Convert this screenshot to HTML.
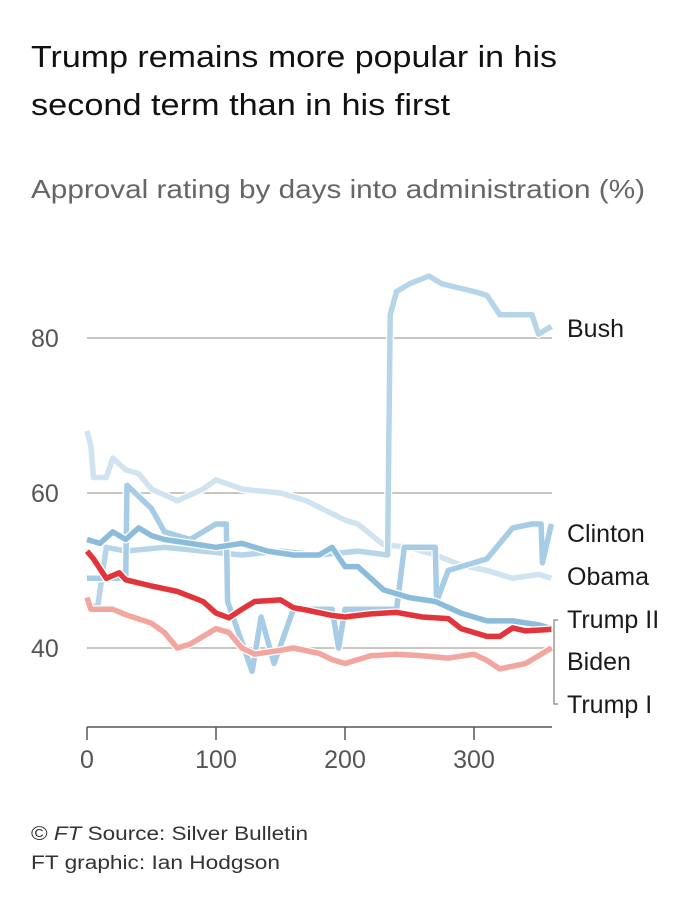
<!DOCTYPE html>
<html><head><meta charset="utf-8"><style>
body{margin:0;background:#fff;}
svg{display:block;font-family:"Liberation Sans",sans-serif;}
</style></head><body>
<svg width="700" height="907" viewBox="0 0 700 907">
<text x="31" y="67" font-size="31" fill="#111" textLength="526" lengthAdjust="spacingAndGlyphs">Trump remains more popular in his</text>
<text x="31" y="115" font-size="31" fill="#111" textLength="419" lengthAdjust="spacingAndGlyphs">second term than in his first</text>
<text x="31" y="198" font-size="26" fill="#666" textLength="614" lengthAdjust="spacingAndGlyphs">Approval rating by days into administration (%)</text>
<g id="grid"></g>
<g id="lines"></g>
<g id="labels"></g>
<text x="31" y="840" font-size="19" fill="#333" textLength="277" lengthAdjust="spacingAndGlyphs">© <tspan font-style="italic">FT</tspan> Source: Silver Bulletin</text>
<text x="31" y="869" font-size="19" fill="#333" textLength="249" lengthAdjust="spacingAndGlyphs">FT graphic: Ian Hodgson</text>
</svg>
<script>
const yTicks=[40,60,80];
const xTicks=[0,100,200,300];
const obamaDays=[0,3,5,15,20,30,40,50,70,90,100,120,150,170,200,210,230,250,270,290,310,330,350,360];
const obamaVals=[68,66,62,62,64.5,63,62.5,60.5,59,60.5,61.7,60.5,60,59,56.5,56,53.3,53,52,50.7,50,49,49.5,49];
const bushDays=[0,8,15,30,60,90,120,150,180,210,233,235,240,250,265,275,300,310,320,345,350,360];
const bushVals=[46,45,53,52.5,53,52.5,52,52.5,52,52.5,52,83,86,87,88,87,86,85.5,83,83,80.5,81.5];
const clintonDays=[0,30,31,50,60,80,100,108,109,128,135,145,160,190,195,200,240,246,270,271,280,300,310,330,345,352,353,360];
const clintonVals=[49,49,61,58,55,54,56,56,46,37,44,38,45,45,40,45,45,53,53,46,50,51,51.5,55.5,56,56,51,56];
const bidenDays=[0,10,20,30,40,50,60,80,100,120,140,160,180,190,200,210,220,230,250,270,290,310,330,350,360];
const bidenVals=[54,53.5,55,54,55.5,54.5,54,53.5,53,53.5,52.5,52,52,53,50.5,50.5,49,47.5,46.5,46,44.5,43.5,43.5,43,42.5];
const trump1Days=[0,3,20,30,50,60,70,80,100,110,120,130,150,160,180,190,200,220,240,260,280,300,310,320,340,350,360];
const trump1Vals=[46.5,45,45,44.3,43.2,42,40,40.5,42.5,42,40,39.2,39.7,40,39.3,38.5,38,39,39.2,39,38.7,39.2,38.4,37.3,38,39,40];
const trump2Days=[0,5,15,25,30,50,70,90,100,110,120,130,150,160,170,190,200,220,240,260,280,290,310,320,330,340,360];
const trump2Vals=[52.5,51.5,49,49.7,48.8,48,47.3,46,44.5,43.9,45,46,46.2,45.2,44.9,44.2,44,44.4,44.6,44,43.8,42.5,41.5,41.5,42.6,42.2,42.4];
const seriesNames=["Bush","Clinton","Obama","Trump II","Biden","Trump I"];
const NS="http://www.w3.org/2000/svg";
const xS=d=>87+d*1.29;
const yS=v=>648-(v-40)*7.75;
const grid=document.getElementById('grid');
function mk(tag,attrs,parent){const e=document.createElementNS(NS,tag);for(const k in attrs)e.setAttribute(k,attrs[k]);parent.appendChild(e);return e;}
yTicks.forEach(t=>{
  const l=mk('line',{x1:87,x2:552,y1:yS(t),y2:yS(t),stroke:'#bcb4ab','stroke-width':1.5},grid);
  
  
  const tx=mk('text',{x:31,y:yS(t)+9,'font-size':25,fill:'#555'},grid);tx.textContent=t;
  
  
});
const ax=mk('line',{x1:87,x2:552,y1:727,y2:727,stroke:'#555','stroke-width':1.5},grid);


xTicks.forEach(t=>{
  const l=mk('line',{x1:xS(t),x2:xS(t),y1:727,y2:740,stroke:'#555','stroke-width':1.5},grid);
  
  
  const tx=mk('text',{x:xS(t),y:768,'font-size':25,fill:'#555','text-anchor':'middle'},grid);tx.textContent=t;
  
  
});
const lines=document.getElementById('lines');
const series=[
 ['obama-line',obamaDays,obamaVals,'#cfe3f0',5.5],
 ['bush-line',bushDays,bushVals,'#b7d5e9',5.5],
 ['clinton-line',clintonDays,clintonVals,'#a7cce5',5.5],
 ['biden-line',bidenDays,bidenVals,'#8cbcdc',5.5],
 ['trump-i-line',trump1Days,trump1Vals,'#f2a69f',5.5],
 ['trump-ii-line',trump2Days,trump2Vals,'#e2353b',5.5]];
series.forEach(s=>{
  const d=s[1].map((dd,i)=>(i?'L':'M')+xS(dd).toFixed(1)+','+yS(s[2][i]).toFixed(1)).join('');
  mk('path',{d:d,fill:'none',stroke:'#fff','stroke-width':s[4]+2.5,'stroke-linejoin':'round'},lines);
  const p=mk('path',{d:d,fill:'none',stroke:s[3],'stroke-width':s[4],'stroke-linejoin':'round'},lines);
  
  
});
const labs=document.getElementById('labels');
const labY=[328,533,576,619,661,704];
seriesNames.forEach((n,i)=>{
  const t=mk('text',{x:567,y:labY[i]+9,'font-size':25,fill:'#1a1a1a','font-weight':'500'},labs);t.textContent=n;
  
  
});
const br=mk('path',{d:'M558,620 L554,620 L554,704 L558,704',fill:'none',stroke:'#999','stroke-width':1.5},labs);


</script>
</body></html>
